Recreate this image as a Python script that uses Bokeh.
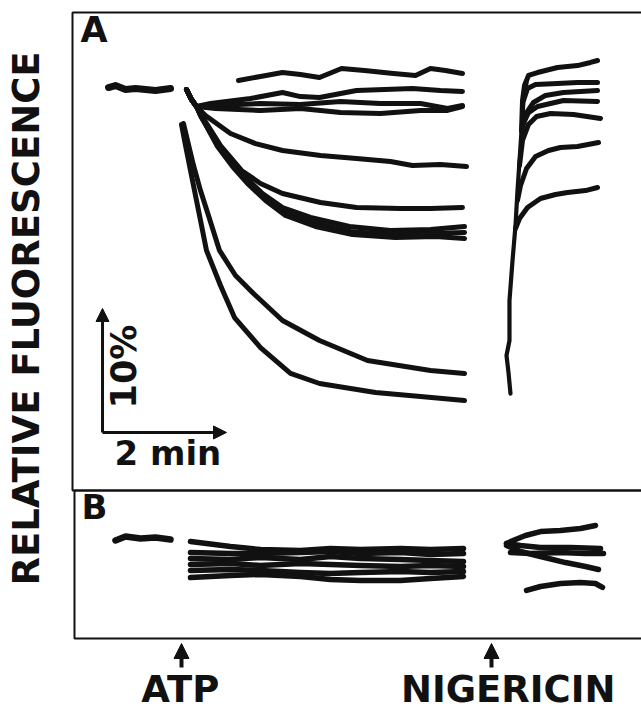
import math
from bokeh.plotting import figure
from bokeh.models import Range1d, Label, Arrow, NormalHead
from bokeh.embed import file_html
from bokeh.resources import INLINE

# ---------------- data (time in min from ATP addition, relative fluorescence in %) ----
EVENT_T = [0.0, 5.0]
EVENT_LABELS = ["ATP", "NIGERICIN"]
SCALE_MIN = 2.0
SCALE_PCT = 10.0

# Panel A: before ATP
A_PRE_T = [-1.177, -1.065, -0.903, -0.742, -0.581, -0.419, -0.177]
A_PRE_F = [100.08, 100.24, 99.92, 100.0, 99.92, 99.84, 100.0]

# common initial deflection of the fan after ATP
FAN_T = [0.081, 0.161, 0.242]
FAN_F = [99.92, 99.11, 98.55]

A1_T = [0.919, 1.274, 1.629, 1.919, 2.226, 2.581, 2.952, 3.419, 3.774, 4.016, 4.258, 4.532]
A1_F = [100.65, 100.97, 101.29, 101.13, 100.89, 101.61, 101.45, 101.21, 101.05, 101.61, 101.45, 101.21]

A2_T = [0.468, 1.113, 1.629, 1.919, 2.226, 2.823, 3.726, 4.177, 4.532]
A2_F = [98.79, 99.19, 99.68, 99.35, 99.27, 99.84, 100.0, 99.84, 99.76]

A3_T = [0.548, 1.274, 1.919, 2.565, 3.210, 3.855, 4.290, 4.532]
A3_F = [98.63, 98.79, 98.71, 98.95, 98.79, 98.79, 98.39, 98.63]

A4_T = [0.548, 1.274, 1.919, 2.565, 3.210, 3.855, 4.290, 4.532]
A4_F = [98.39, 98.23, 98.39, 98.06, 97.98, 98.23, 98.23, 98.55]

A5_T = [0.387, 0.790, 1.194, 1.629, 2.242, 2.823, 3.371, 3.726, 4.177, 4.597]
A5_F = [97.82, 96.37, 95.56, 95.0, 94.60, 94.35, 94.11, 93.79, 93.87, 93.71]

A6_T = [0.355, 0.629, 0.968, 1.274, 1.629, 2.242, 2.823, 3.532, 4.016, 4.532]
A6_F = [97.58, 95.40, 93.39, 92.34, 91.53, 90.81, 90.40, 90.32, 90.32, 90.40]

A7_T = [0.306, 0.548, 0.790, 1.032, 1.306, 1.629, 2.081, 2.710, 3.371, 4.016, 4.565]
A7_F = [97.82, 95.81, 94.19, 92.82, 91.53, 90.40, 89.60, 88.87, 88.55, 88.63, 88.87]

A8_T = [0.323, 0.565, 0.806, 1.048, 1.323, 1.645, 2.113, 2.726, 3.371, 4.016, 4.565]
A8_F = [97.66, 95.56, 93.95, 92.58, 91.29, 90.08, 89.19, 88.47, 88.23, 88.31, 88.39]

A9_T = [0.339, 0.581, 0.823, 1.081, 1.355, 1.677, 2.161, 2.758, 3.452, 4.097, 4.565]
A9_F = [97.58, 95.32, 93.71, 92.26, 90.97, 89.76, 88.87, 88.23, 87.98, 88.06, 87.90]

A10_T = [0.032, 0.097, 0.194, 0.306, 0.435, 0.613, 0.871, 1.161, 1.629, 2.226, 3.0, 4.016, 4.565]
A10_F = [97.18, 95.81, 93.79, 91.77, 89.76, 86.94, 84.92, 83.47, 81.29, 79.68, 78.06, 77.26, 77.02]

A11_T = [0.0, 0.065, 0.145, 0.242, 0.323, 0.403, 0.629, 0.855, 1.274, 1.758, 2.226, 3.129, 3.855, 4.565]
A11_F = [97.10, 95.40, 93.39, 90.97, 88.95, 86.94, 84.11, 81.53, 79.11, 77.02, 76.21, 75.48, 75.16, 74.84]

# Panel A: after nigericin (common rise, then branches)
NIG_T = [5.306, 5.274, 5.242, 5.290, 5.290, 5.339, 5.387, 5.419, 5.452, 5.484, 5.516, 5.565]
NIG_F = [75.40, 77.10, 78.47, 79.68, 82.90, 86.13, 88.95, 91.77, 94.19, 96.61, 99.03, 100.48]

N1_T = [5.484, 5.5, 5.532, 5.597, 5.742, 6.065, 6.387, 6.597, 6.710]
N1_F = [96.61, 99.03, 100.24, 101.05, 101.29, 101.69, 101.85, 102.10, 102.26]
N2_T = [5.516, 5.581, 5.710, 6.065, 6.387, 6.710]
N2_F = [99.03, 100.0, 100.32, 100.40, 100.48, 100.48]
N3_T = [5.484, 5.565, 5.677, 5.871, 6.161, 6.435, 6.710]
N3_F = [96.61, 98.06, 98.87, 99.44, 99.68, 99.76, 99.84]
N4_T = [5.5, 5.597, 5.742, 6.161, 6.710]
N4_F = [97.02, 98.06, 98.55, 99.03, 98.95]
N5_T = [5.452, 5.5, 5.597, 5.726, 5.952, 6.323, 6.758]
N5_F = [93.79, 95.81, 97.10, 97.74, 97.98, 97.90, 97.58]
N6_T = [5.419, 5.468, 5.565, 5.710, 5.919, 6.113, 6.387, 6.726]
N6_F = [90.97, 92.18, 93.55, 94.52, 95.0, 95.24, 95.32, 95.65]
N7_T = [5.387, 5.452, 5.581, 5.790, 6.032, 6.226, 6.516, 6.710]
N7_F = [88.71, 89.52, 90.40, 91.13, 91.45, 91.61, 91.77, 92.02]

# Panel B
B_PRE_T = [-1.065, -0.903, -0.661, -0.419, -0.177]
B_PRE_F = [99.84, 100.16, 100.0, 100.08, 99.92]

B_ATP_T = [0.145, 0.790, 1.274, 1.919, 2.403, 2.887, 3.532, 4.016, 4.548]
B1_F = [99.76, 99.35, 99.11, 99.03, 99.19, 99.11, 99.19, 99.11, 99.19]
B2_F = [98.87, 98.79, 98.79, 98.87, 98.95, 98.79, 98.87, 98.71, 98.79]
B3_F = [98.39, 98.31, 98.47, 98.31, 98.55, 98.39, 98.31, 98.23, 98.15]
B4_F = [97.90, 97.98, 97.82, 97.98, 97.90, 97.82, 97.74, 97.82, 97.74]
B5_F = [97.42, 97.50, 97.42, 97.26, 97.18, 97.26, 97.34, 97.26, 97.34]
B6_F = [96.85, 97.02, 97.10, 96.94, 96.69, 96.61, 96.61, 96.77, 96.94]

BN1_T = [5.242, 5.387, 5.548, 5.790, 6.113, 6.435, 6.677]
BN1_F = [99.60, 99.92, 100.24, 100.56, 100.65, 100.81, 101.05]
BN2_T = [5.242, 5.468, 5.790, 6.274, 6.758]
BN2_F = [99.60, 99.44, 99.27, 99.27, 99.19]
BN3_T = [5.306, 5.629, 6.113, 6.516, 6.806]
BN3_F = [98.87, 98.79, 98.87, 98.79, 98.79]
BN4_T = [5.242, 5.468, 5.790, 6.194, 6.516, 6.726]
BN4_F = [99.44, 98.95, 98.55, 98.06, 97.74, 97.50]
BN5_T = [5.565, 5.790, 6.113, 6.435, 6.677, 6.790]
BN5_F = [95.81, 96.13, 96.37, 96.45, 96.37, 96.05]

# ---------------- figure ----------------
PX_MIN = 62.0     # pixels per minute
PX_PCT = 12.4     # pixels per percent
W, H = 641, 710
X0 = -2.9194      # time at the left edge
YA_TOP = 107.097  # panel A value at the top edge
YB_TOP = 143.387  # panel B value at the top edge

p = figure(width=W, height=H, output_backend="svg", toolbar_location=None,
           x_axis_location=None, y_axis_location=None, min_border=0,
           outline_line_color=None,
           x_range=Range1d(X0, X0 + W / PX_MIN),
           y_range=Range1d(YA_TOP - H / PX_PCT, YA_TOP))
p.extra_y_ranges = {"B": Range1d(YB_TOP - H / PX_PCT, YB_TOP)}
p.grid.visible = False
p.background_fill_color = "white"

INK = "#111111"

# panel frames
p.quad(left=[-1.758], right=[8.0], top=[106.13], bottom=[67.58],
       fill_color=None, line_color=INK, line_width=2)
p.quad(left=[-1.726], right=[8.0], top=[67.58], bottom=[55.65],
       fill_color=None, line_color=INK, line_width=2)

def trace(t, f, w=5.0, rng="default"):
    p.line(t, f, line_color=INK, line_width=w, line_join="round", line_cap="round",
           y_range_name=rng)

# Panel A traces
trace(A_PRE_T, A_PRE_F, w=7)
for tt, ff in [(A2_T, A2_F), (A3_T, A3_F), (A4_T, A4_F), (A5_T, A5_F),
               (A6_T, A6_F), (A7_T, A7_F), (A8_T, A8_F), (A9_T, A9_F)]:
    trace(FAN_T + tt, FAN_F + ff)
trace(A1_T, A1_F)
trace(A10_T, A10_F)
trace(A11_T, A11_F)
trace(NIG_T, NIG_F, w=4.2)
for tt, ff in [(N1_T, N1_F), (N2_T, N2_F), (N3_T, N3_F), (N4_T, N4_F),
               (N5_T, N5_F), (N6_T, N6_F), (N7_T, N7_F)]:
    trace(tt, ff)

# Panel B traces
trace(B_PRE_T, B_PRE_F, w=6.5, rng="B")
for ff in [B1_F, B2_F, B3_F, B4_F, B5_F, B6_F]:
    trace(B_ATP_T, ff, w=5.5, rng="B")
for tt, ff in [(BN1_T, BN1_F), (BN2_T, BN2_F), (BN3_T, BN3_F), (BN4_T, BN4_F), (BN5_T, BN5_F)]:
    trace(tt, ff, w=5.5, rng="B")

# scale bars
SB_T, SB_F = -1.274, 72.26
for dt, df in [(0.0, SCALE_PCT), (SCALE_MIN, 0.0)]:
    p.add_layout(Arrow(end=NormalHead(size=13, fill_color=INK, line_color=INK),
                       x_start=SB_T, y_start=SB_F, x_end=SB_T + dt, y_end=SB_F + df,
                       line_color=INK, line_width=3))

FONT = "DejaVu Sans"
def lab(x, y, text, size, angle=0.0, align="left"):
    p.add_layout(Label(x=x, y=y, text=text, text_font=FONT, text_font_style="bold",
                       text_font_size=size, text_color=INK, text_align=align,
                       text_baseline="middle", angle=angle))

lab(-1.629, 104.68, "A", "35px")
lab(-1.613, 66.21, "B", "34px")
lab(-1.081, 70.645, f"{SCALE_MIN:.0f} min", "34px")
lab(-0.935, 77.58, f"{SCALE_PCT:.0f}%", "35px", angle=math.pi / 2, align="center")
lab(-2.50, 81.45, "RELATIVE FLUORESCENCE", "37px", angle=math.pi / 2, align="center")

# event arrows and labels
for t_ev, name in zip(EVENT_T, EVENT_LABELS):
    p.add_layout(Arrow(end=NormalHead(size=15, fill_color=INK, line_color=INK),
                       x_start=t_ev, y_start=53.31, x_end=t_ev, y_end=55.24,
                       line_color=INK, line_width=4))
    lab(t_ev + (0.27 if name == "NIGERICIN" else -0.02), 51.53, name, "37px", align="center")

open("out.html", "w").write(file_html(p, INLINE))
